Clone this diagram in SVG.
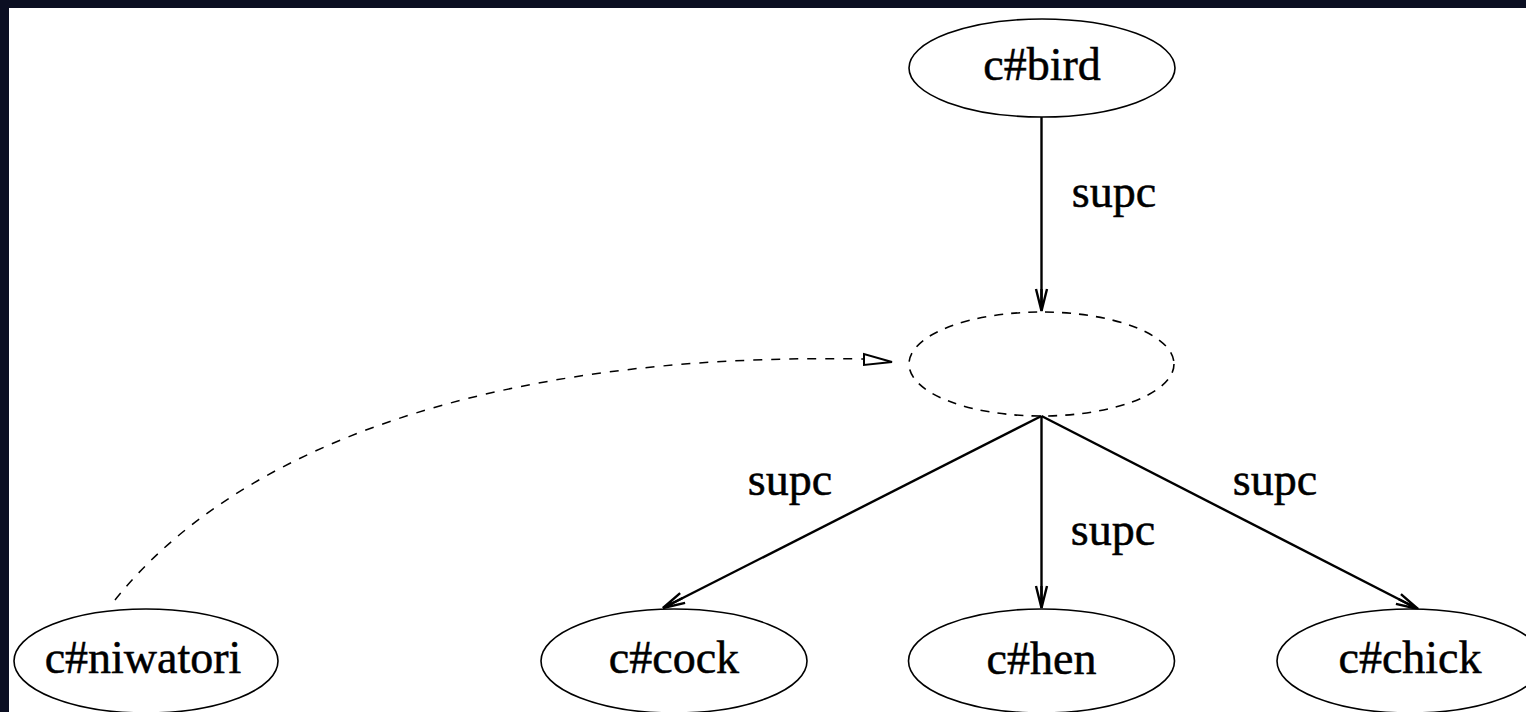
<svg xmlns="http://www.w3.org/2000/svg" width="1526" height="712" viewBox="0 0 1526 712">
  <style>
    .node { fill: #ffffff; stroke: #000000; stroke-width: 1.6; }
    .anon { fill: none; stroke: #000000; stroke-width: 1.6; stroke-dasharray: 9 8; }
    .label { font-family: "Liberation Serif", "Times New Roman", serif; font-size: 46px; fill: #000000; stroke: #000000; stroke-width: 0.5; text-anchor: middle; }
    .edge { fill: none; stroke: #000000; stroke-width: 2.4; }
    .link { fill: none; stroke: #000000; stroke-width: 1.5; stroke-dasharray: 9 9; }
  </style>
  <defs>
    <marker id="vee" markerUnits="userSpaceOnUse" viewBox="-26 -9 30 18" refX="0" refY="0" markerWidth="30" markerHeight="18" orient="auto" overflow="visible">
      <path d="M-22,-5.5 L0,0 L-22,5.5 M-22,0 L0,0" fill="none" stroke="#000000" stroke-width="2.4"/>
    </marker>
  </defs>

  <!-- frame -->
  <rect x="0" y="0" width="1526" height="712" fill="#0b0f22"/>
  <rect x="9" y="8" width="1517" height="704" fill="#ffffff"/>

  <!-- connectors -->
  <g id="connectors">
    <line class="edge" x1="1041.5" y1="117" x2="1041.5" y2="311" marker-end="url(#vee)"/>
    <line class="edge" x1="1041.5" y1="416" x2="663" y2="608" marker-end="url(#vee)"/>
    <line class="edge" x1="1041.5" y1="416" x2="1041.5" y2="608" marker-end="url(#vee)"/>
    <line class="edge" x1="1041.5" y1="416" x2="1418" y2="609" marker-end="url(#vee)"/>
    <path class="link" d="M115,600 C235,450 485,352 864,359"/>
    <polygon points="864,354 864,365 892,362" fill="#ffffff" stroke="#000000" stroke-width="2"/>
    <text class="label" x="1114" y="207">supc</text>
    <text class="label" x="790" y="495">supc</text>
    <text class="label" x="1113" y="545">supc</text>
    <text class="label" x="1275" y="495">supc</text>
  </g>

  <!-- nodes -->
  <g id="bird">
    <ellipse class="node" cx="1042" cy="68" rx="133" ry="49"/>
    <text class="label" x="1042" y="80">c#bird</text>
  </g>
  <g id="anonymous">
    <ellipse class="anon" cx="1041.5" cy="364" rx="132.5" ry="52"/>
  </g>
  <g id="niwatori">
    <ellipse class="node" cx="146" cy="661" rx="132" ry="52"/>
    <text class="label" x="143" y="673">c#niwatori</text>
  </g>
  <g id="cock">
    <ellipse class="node" cx="674" cy="661" rx="133" ry="52"/>
    <text class="label" x="674" y="673">c#cock</text>
  </g>
  <g id="hen">
    <ellipse class="node" cx="1041.5" cy="661" rx="133" ry="52"/>
    <text class="label" x="1041.5" y="674">c#hen</text>
  </g>
  <g id="chick">
    <ellipse class="node" cx="1410" cy="661" rx="133" ry="52"/>
    <text class="label" x="1410" y="673">c#chick</text>
  </g>
</svg>
